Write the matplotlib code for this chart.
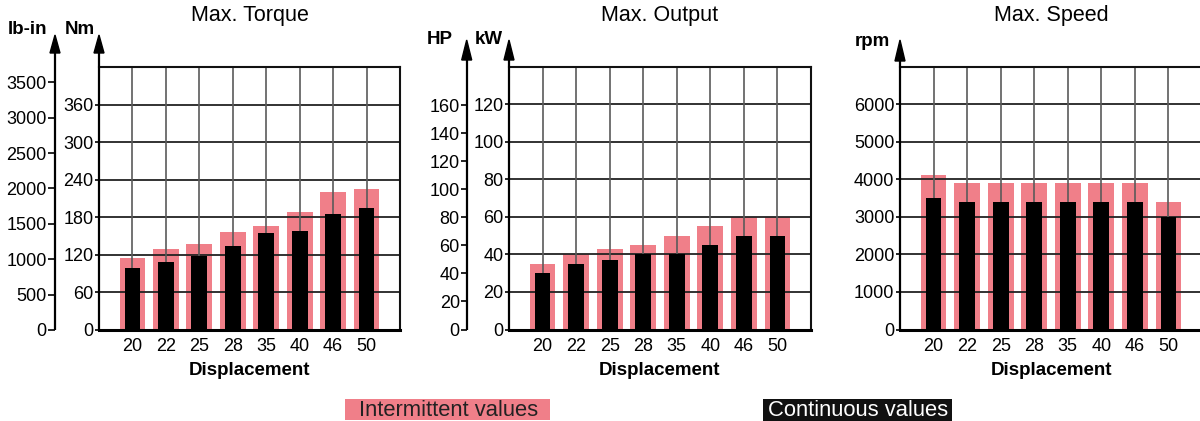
import matplotlib
matplotlib.use("Agg")
import matplotlib.pyplot as plt
from matplotlib.patches import Polygon, Rectangle

plt.rcParams['font.family'] = ['Liberation Sans', 'DejaVu Sans']

categories = ["20", "22", "25", "28", "35", "40", "46", "50"]

torque_intermittent = [115, 129, 137, 156, 166, 188, 220, 225]
torque_continuous = [99, 108, 118, 134, 155, 158, 185, 195]
torque_ticks_nm = [0, 60, 120, 180, 240, 300, 360]
torque_ticks_lbin = [0, 500, 1000, 1500, 2000, 2500, 3000, 3500]

output_intermittent = [35, 40, 43, 45, 50, 55, 60, 60]
output_continuous = [30, 35, 37, 40, 40, 45, 50, 50]
output_ticks_kw = [0, 20, 40, 60, 80, 100, 120]
output_ticks_hp = [0, 20, 40, 60, 80, 100, 120, 140, 160]

speed_intermittent = [4100, 3900, 3900, 3900, 3900, 3900, 3900, 3400]
speed_continuous = [3500, 3400, 3400, 3400, 3400, 3400, 3400, 3000]
speed_ticks = [0, 1000, 2000, 3000, 4000, 5000, 6000]

NM_TO_LBIN = 8.8507
KW_TO_HP = 1 / 0.7457

PINK = "#F07F89"
W, H = 1200, 421
fig = plt.figure(figsize=(12, 4.21), dpi=100)


def arrow_axis(ax, xfrac, tip, base, axw, axh):
    ax.plot([xfrac, xfrac], [0, base], transform=ax.transAxes, color="black",
            lw=1.6, clip_on=False, solid_capstyle="butt", zorder=5)
    hw = 5.0 / axw
    tri = Polygon([[xfrac - hw, base], [xfrac + hw, base], [xfrac, tip]],
                  closed=True, transform=ax.transAxes, color="black",
                  clip_on=False, zorder=5)
    ax.add_patch(tri)


def make_panel(left_px, top_px, bottom_px, width_px, inter, cont, yticks, ymax, title):
    axh = bottom_px - top_px
    ax = fig.add_axes([left_px / W, 1 - bottom_px / H, width_px / W, axh / H])
    x = list(range(1, len(categories) + 1))
    ax.bar(x, inter, width=0.77, color=PINK, zorder=1)
    ax.bar(x, cont, width=0.47, color="black", zorder=3)
    ax.set_xlim(0, 9)
    ax.set_ylim(0, ymax)
    for yt in yticks[1:]:
        ax.axhline(yt, color="#222222", lw=1.3, zorder=2)
    for xi in x:
        ax.axvline(xi, color="#5a5a5a", lw=1.2, zorder=2)
    ax.axhline(0, color="black", lw=2.2, zorder=4, clip_on=False)
    ax.set_xticks(x)
    ax.set_xticklabels(categories, fontsize=13)
    ax.tick_params(axis="x", length=0, pad=6)
    ax.set_yticks(yticks)
    ax.tick_params(axis="y", length=3, width=1.2, pad=1, labelsize=13, color="black")
    for s in ["left", "bottom"]:
        ax.spines[s].set_visible(False)
    ax.spines["top"].set_linewidth(1.5)
    ax.spines["right"].set_linewidth(1.5)
    ax.spines["top"].set_color("#111111")
    ax.spines["right"].set_color("#111111")
    ax.set_xlabel("Displacement", fontsize=13.5, fontweight="bold", labelpad=5)
    ax.text(0.5, (bottom_px - 16) / axh, title, transform=ax.transAxes,
            ha="center", va="center", fontsize=15.5)
    return ax, axh


# Panel 1: torque
ax1, h1 = make_panel(99, 67, 330, 301, torque_intermittent, torque_continuous,
                     torque_ticks_nm, 420, "Max. Torque")
arrow_axis(ax1, 0, (330 - 35) / h1, (330 - 53) / h1, 301, h1)
loc1 = -44 / 301
sec1 = ax1.secondary_yaxis(loc1, functions=(lambda v: v * NM_TO_LBIN, lambda v: v / NM_TO_LBIN))
sec1.set_yticks(torque_ticks_lbin)
sec1.tick_params(length=5, width=1.2, pad=1, labelsize=13)
sec1.spines["left"].set_visible(False)
arrow_axis(ax1, loc1, (330 - 35) / h1, (330 - 53) / h1, 301, h1)
ax1.text((28 - 99) / 301, (330 - 29) / h1, "lb-in", transform=ax1.transAxes,
         ha="center", va="center", fontsize=13.5, fontweight="bold")
ax1.text((80 - 99) / 301, (330 - 29) / h1, "Nm", transform=ax1.transAxes,
         ha="center", va="center", fontsize=13.5, fontweight="bold")

# Panel 2: output
ax2, h2 = make_panel(509, 66.5, 329.5, 302, output_intermittent, output_continuous,
                     output_ticks_kw, 140, "Max. Output")
arrow_axis(ax2, 0, (329.5 - 40) / h2, (329.5 - 60) / h2, 302, h2)
loc2 = -42.3 / 302
sec2 = ax2.secondary_yaxis(loc2, functions=(lambda v: v * KW_TO_HP, lambda v: v / KW_TO_HP))
sec2.set_yticks(output_ticks_hp)
sec2.tick_params(length=4, width=1.2, pad=1, labelsize=13)
sec2.spines["left"].set_visible(False)
arrow_axis(ax2, loc2, (329.5 - 40) / h2, (329.5 - 60) / h2, 302, h2)
ax2.text((440 - 509) / 302, (329.5 - 39) / h2, "HP", transform=ax2.transAxes,
         ha="center", va="center", fontsize=13.5, fontweight="bold")
ax2.text((489 - 509) / 302, (329.5 - 39) / h2, "kW", transform=ax2.transAxes,
         ha="center", va="center", fontsize=13.5, fontweight="bold")

# Panel 3: speed
ax3, h3 = make_panel(900, 66.5, 329.5, 302, speed_intermittent, speed_continuous,
                     speed_ticks, 7000, "Max. Speed")
arrow_axis(ax3, 0, (329.5 - 40) / h3, (329.5 - 61) / h3, 302, h3)
ax3.text((872 - 900) / 302, (329.5 - 42) / h3, "rpm", transform=ax3.transAxes,
         ha="center", va="center", fontsize=13.5, fontweight="bold")

# Legend boxes
fig.patches.append(Rectangle((345 / W, 1 - 420 / H), 205 / W, 21 / H,
                             transform=fig.transFigure, facecolor=PINK,
                             edgecolor="none", figure=fig))
fig.patches.append(Rectangle((763 / W, 1 - 421 / H), 189 / W, 22 / H,
                             transform=fig.transFigure, facecolor="#111111",
                             edgecolor="none", figure=fig))
fig.text(448.5 / W, 1 - 416 / H, "Intermittent values", ha="center", va="baseline",
         fontsize=15.8, color="#222222")
fig.text(858 / W, 1 - 416 / H, "Continuous values", ha="center", va="baseline",
         fontsize=15.8, color="white")

fig.savefig("out.png", dpi=100)
